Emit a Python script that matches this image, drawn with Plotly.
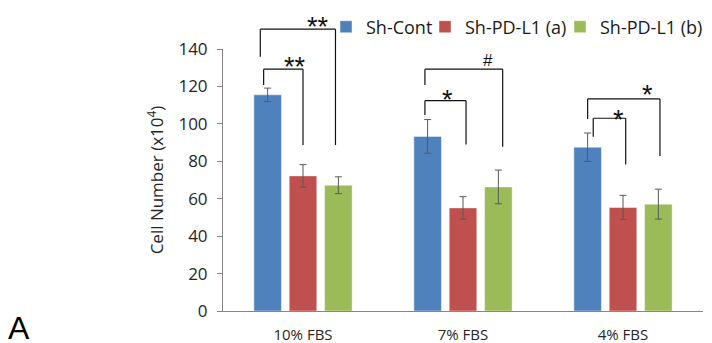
import plotly.graph_objects as go

# ---- data ----
categories = ["10% FBS", "7% FBS", "4% FBS"]
series_names = ["Sh-Cont", "Sh-PD-L1 (a)", "Sh-PD-L1 (b)"]
sh_cont = [115.5, 93.3, 87.5]
sh_cont_err = [3.6, 9.0, 7.6]
sh_pdl1_a = [72.2, 55.1, 55.3]
sh_pdl1_a_err = [6.0, 6.0, 6.5]
sh_pdl1_b = [67.2, 66.3, 57.1]
sh_pdl1_b_err = [4.5, 9.0, 8.0]
y_ticks = [0, 20, 40, 60, 80, 100, 120, 140]

# significance brackets: (category index, left x offset, right x offset,
#  top value, left leg bottom value, right leg bottom value, label, label x offset, label value)
brackets = [
    (0, -0.246, 0.000, 129.2, 120.8, 88.7, "**", -0.047, 134.2),
    (0, -0.267, 0.203, 150.6, 135.9, 88.7, "**", 0.096, 155.6),
    (1, -0.238, 0.019, 112.4, 104.7, 89.0, "*", -0.100, 116.5),
    (1, -0.238, 0.248, 129.2, 120.8, 87.8, "#", 0.156, 133.6),
    (2, -0.186, 0.017, 103.0, 93.1, 78.3, "*", -0.026, 106.0),
    (2, -0.221, 0.231, 113.3, 102.6, 82.8, "*", 0.150, 119.2),
]

colors = ["#4F81BD", "#C0504D", "#9BBB59"]
Y_MAX = 140
FONT = "Open Sans"

fig = go.Figure()
values = [sh_cont, sh_pdl1_a, sh_pdl1_b]
errors = [sh_cont_err, sh_pdl1_a_err, sh_pdl1_b_err]
legend_ids = ["legend", "legend2", "legend3"]
for name, vals, errs, col, lg in zip(series_names, values, errors, colors, legend_ids):
    fig.add_trace(go.Bar(
        x=categories, y=vals, name=name, legend=lg, showlegend=True,
        marker=dict(color=col, line=dict(color="rgba(255,255,255,0.45)", width=1)),
        error_y=dict(type="data", array=errs, color="#595959", thickness=1, width=3.5),
    ))

def py(v):
    return v / Y_MAX

line_style = dict(color="#111111", width=1.2)
for (ci, xl, xr, top, lb, rb, label, lx, ly) in brackets:
    x1 = ci + xl
    x2 = ci + xr
    fig.add_shape(type="line", xref="x", yref="paper", x0=x1, x1=x1, y0=py(lb), y1=py(top), line=line_style)
    fig.add_shape(type="line", xref="x", yref="paper", x0=x1, x1=x2, y0=py(top), y1=py(top), line=line_style)
    fig.add_shape(type="line", xref="x", yref="paper", x0=x2, x1=x2, y0=py(top), y1=py(rb), line=line_style)
    is_star = "*" in label
    fig.add_annotation(
        x=ci + lx, y=py(ly), xref="x", yref="paper", text=label, showarrow=False,
        xanchor="center", yanchor="middle", yshift=-7 if is_star else 0,
        font=dict(family="Liberation Sans", size=27 if is_star else 17, color="#111111"),
    )

fig.add_annotation(
    x=(19 - 223) / 480, y=(311 - 328) / 262, xref="paper", yref="paper", text="A", showarrow=False,
    xanchor="center", yanchor="middle", font=dict(family="Liberation Sans", size=32, color="#000000"),
)

legend_common = dict(orientation="h", xref="container", yref="container", yanchor="middle",
                     xanchor="left", bgcolor="rgba(0,0,0,0)",
                     font=dict(family=FONT, size=18, color="#1a1a1a"))
fig.update_layout(
    width=712, height=343, showlegend=True,
    margin=dict(l=223, r=9, t=49, b=32, autoexpand=False),
    plot_bgcolor="white", paper_bgcolor="white",
    barmode="group", bargap=0.337, bargroupgap=0.22,
    font=dict(family=FONT, color="#262626"),
    legend=dict(x=326 / 712, y=1 - 27 / 343, **legend_common),
    legend2=dict(x=425 / 712, y=1 - 27 / 343, **legend_common),
    legend3=dict(x=560 / 712, y=1 - 27 / 343, **legend_common),
    xaxis=dict(showline=True, linecolor="#868686", linewidth=1, ticks="", showgrid=False,
               tickfont=dict(family=FONT, size=15, color="#262626"), ticklabelstandoff=10),
    yaxis=dict(range=[0, Y_MAX], tickvals=y_ticks, showline=True, linecolor="#868686", linewidth=1,
               ticks="outside", ticklen=5, tickcolor="#868686", showgrid=False, zeroline=False,
               tickfont=dict(family=FONT, size=17, color="#262626"), ticklabelstandoff=6,
               title=dict(text="Cell Number (x10<sup>4</sup>)", standoff=10,
                          font=dict(family=FONT, size=17, color="#262626"))),
)

fig.write_html("out.html", config={"displayModeBar": False},
               post_script="document.body.style.margin='0';document.body.style.overflow='hidden';")
